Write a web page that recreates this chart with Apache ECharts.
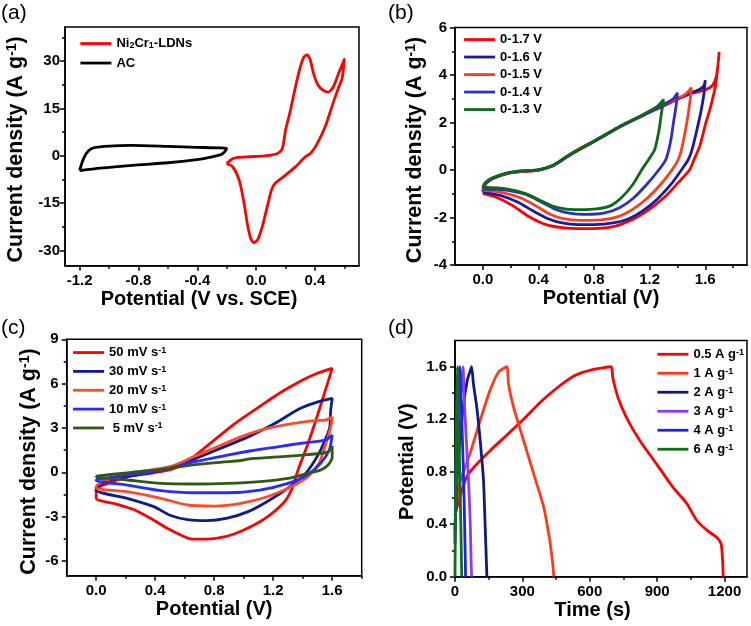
<!DOCTYPE html>
<html><head><meta charset="utf-8">
<script src="https://cdn.jsdelivr.net/npm/echarts@6/dist/echarts.min.js"></script>
<style>html,body{margin:0;padding:0;background:#fff}#c{width:751px;height:626px}</style>
</head><body><div id="c"></div>
<script>
// ---------- Panel (a) ----------
const aNames = ['Ni2Cr1-LDNs', 'AC'];
const aLDNs = [[-0.2,-2.5],[-0.16,-0.9],[-0.12,-0.5],[-0.05,-0.3],[0.06,0],[0.13,0.5],[0.16,1.2],[0.18,2.5],[0.2,8],[0.234,14.5],[0.268,21.9],[0.3,28],[0.325,31.3],[0.347,32],[0.368,30.5],[0.39,26.2],[0.42,22.5],[0.455,20.8],[0.49,20.2],[0.525,21.8],[0.56,26],[0.6,30.5],[0.585,24.5],[0.56,21.5],[0.515,15.5],[0.47,9.2],[0.41,3.4],[0.37,0.8],[0.335,-0.3],[0.27,-3.4],[0.2,-6.1],[0.13,-8.7],[0.105,-10.8],[0.076,-16.1],[0.042,-22.4],[0.01,-26.6],[-0.015,-27.5],[-0.037,-26.1],[-0.06,-21.4],[-0.082,-15],[-0.115,-7.7],[-0.16,-3.4],[-0.2,-2.5]];
const aAC = [[-1.2,-4.7],[-1.19,-3],[-1.17,-0.5],[-1.14,1.6],[-1.1,2.6],[-1.0,3.1],[-0.85,3.3],[-0.6,3.0],[-0.4,2.7],[-0.25,2.5],[-0.2,2.3],[-0.22,1.0],[-0.25,0.2],[-0.32,-0.5],[-0.39,-1.1],[-0.6,-2.2],[-0.84,-3.0],[-1.06,-3.9],[-1.2,-4.7]];
const aXMajor = [-1.2,-0.8,-0.4,0,0.4], aXMinor = [-1.0,-0.6,-0.2,0.2,0.6];
const aYMajor = [-30,-15,0,15,30], aYMinor = [-22.5,-7.5,7.5,22.5,37.5];

// ---------- Panel (b) ----------
const bNames = ['0-1.7 V','0-1.6 V','0-1.5 V','0-1.4 V','0-1.3 V'];
const b17 = [[0,-0.95],[0.02,-0.6],[0.07,-0.37],[0.17,-0.16],[0.29,-0.06],[0.4,-0.01],[0.5,0.16],[0.55,0.33],[0.6,0.53],[0.69,0.84],[0.8,1.2],[0.92,1.6],[1.0,1.86],[1.16,2.32],[1.3,2.7],[1.4,2.98],[1.5,3.22],[1.6,3.38],[1.65,3.55],[1.68,3.95],[1.7,4.97],[1.675,3.6],[1.64,2.7],[1.6,1.9],[1.56,1.0],[1.52,0.45],[1.486,0],[1.41,-0.5],[1.31,-1.13],[1.19,-1.69],[1.07,-2.11],[0.955,-2.36],[0.836,-2.46],[0.69,-2.47],[0.573,-2.43],[0.454,-2.3],[0.334,-1.97],[0.215,-1.5],[0.096,-1.15],[0,-0.99]];
const b16 = [[0,-0.9],[0.02,-0.58],[0.07,-0.36],[0.17,-0.15],[0.29,-0.05],[0.4,0],[0.5,0.17],[0.55,0.34],[0.6,0.54],[0.69,0.85],[0.8,1.2],[0.92,1.6],[1.0,1.86],[1.16,2.32],[1.3,2.72],[1.4,3.0],[1.5,3.25],[1.56,3.4],[1.59,3.55],[1.6,3.78],[1.59,3.2],[1.57,2.5],[1.54,1.7],[1.504,0.84],[1.476,0.42],[1.428,0],[1.36,-0.55],[1.25,-1.25],[1.15,-1.72],[1.05,-2.05],[0.95,-2.22],[0.8,-2.3],[0.68,-2.3],[0.57,-2.23],[0.47,-2.05],[0.36,-1.72],[0.25,-1.35],[0.13,-1.08],[0,-0.93]];
const b15 = [[0,-0.85],[0.02,-0.56],[0.07,-0.35],[0.17,-0.15],[0.29,-0.05],[0.4,0],[0.5,0.18],[0.55,0.35],[0.6,0.55],[0.69,0.85],[0.8,1.2],[0.92,1.6],[1.0,1.86],[1.16,2.33],[1.3,2.74],[1.4,3.02],[1.46,3.2],[1.5,3.47],[1.49,2.9],[1.47,2.1],[1.45,1.45],[1.428,0.84],[1.404,0.42],[1.36,0],[1.28,-0.6],[1.18,-1.2],[1.08,-1.65],[0.98,-1.95],[0.85,-2.1],[0.7,-2.12],[0.58,-2.05],[0.48,-1.85],[0.38,-1.5],[0.27,-1.17],[0.14,-0.95],[0,-0.86]];
const b14 = [[0,-0.8],[0.02,-0.55],[0.07,-0.35],[0.17,-0.14],[0.29,-0.04],[0.4,0],[0.5,0.18],[0.55,0.35],[0.6,0.55],[0.69,0.86],[0.8,1.21],[0.92,1.61],[1.0,1.87],[1.16,2.34],[1.3,2.76],[1.37,3.0],[1.4,3.25],[1.39,2.7],[1.37,1.95],[1.355,1.35],[1.337,0.84],[1.314,0.42],[1.265,0],[1.18,-0.6],[1.08,-1.2],[0.98,-1.6],[0.87,-1.82],[0.75,-1.87],[0.62,-1.82],[0.52,-1.65],[0.42,-1.35],[0.32,-1.05],[0.2,-0.88],[0.1,-0.82],[0,-0.8]];
const b13 = [[0,-0.72],[0.02,-0.52],[0.07,-0.33],[0.17,-0.13],[0.29,-0.03],[0.4,0.01],[0.5,0.19],[0.55,0.36],[0.6,0.56],[0.69,0.87],[0.8,1.22],[0.92,1.62],[1.0,1.88],[1.16,2.36],[1.26,2.7],[1.3,2.97],[1.285,2.4],[1.265,1.6],[1.235,0.84],[1.19,0.42],[1.142,0],[1.08,-0.6],[1.0,-1.15],[0.92,-1.5],[0.82,-1.64],[0.7,-1.67],[0.6,-1.65],[0.5,-1.52],[0.41,-1.27],[0.31,-0.99],[0.17,-0.79],[0,-0.72]];
const bXMajor = [0,0.4,0.8,1.2,1.6], bXMinor = [0.2,0.6,1.0,1.4,1.8];
const bYMajor = [-4,-2,0,2,4,6], bYMinor = [-3,-1,1,3,5];

// ---------- Panel (c) ----------
const cNames = ['50 mV s-1','30 mV s-1','20 mV s-1','10 mV s-1','5 mV s-1'];
const c50 = [[0,-1.1],[0.05,-0.85],[0.21,-0.3],[0.39,-0.03],[0.53,0.26],[0.66,1.05],[0.8,2.18],[0.94,3.3],[1.1,4.4],[1.25,5.4],[1.4,6.25],[1.5,6.7],[1.6,7.03],[1.561,5.78],[1.504,3.98],[1.436,1.95],[1.368,0.15],[1.323,-1.2],[1.277,-1.99],[1.163,-3.0],[1.05,-3.67],[0.936,-4.17],[0.822,-4.45],[0.708,-4.52],[0.64,-4.5],[0.595,-4.34],[0.481,-3.78],[0.368,-3.11],[0.25,-2.5],[0.136,-2.15],[0,-1.75],[0,-1.1]];
const c30 = [[0,-1.0],[0.1,-0.5],[0.32,-0.1],[0.5,0.26],[0.66,0.87],[0.84,1.61],[1.03,2.4],[1.21,3.3],[1.378,4.3],[1.514,4.8],[1.6,5.0],[1.59,4.2],[1.584,3.08],[1.57,2.63],[1.51,1.28],[1.42,-0.07],[1.3,-1.07],[1.16,-1.97],[1.03,-2.66],[0.89,-3.1],[0.75,-3.27],[0.62,-3.2],[0.5,-2.9],[0.39,-2.32],[0.21,-1.76],[0,-1.22],[0,-1.0]];
const c20 = [[0,-0.9],[0.05,-0.6],[0.21,-0.1],[0.5,0.38],[0.66,1.05],[0.82,1.73],[0.98,2.4],[1.16,2.97],[1.34,3.31],[1.48,3.5],[1.56,3.55],[1.6,3.76],[1.59,3.08],[1.55,1.73],[1.51,0.6],[1.42,-0.41],[1.3,-1.08],[1.16,-1.65],[0.98,-2.1],[0.8,-2.28],[0.62,-2.21],[0.44,-1.76],[0.21,-1.31],[0,-1.08],[0,-0.9]];
const c10 = [[0,-0.47],[0.21,-0.2],[0.44,0.14],[0.66,0.7],[0.89,1.17],[1.05,1.46],[1.23,1.73],[1.41,2.0],[1.55,2.18],[1.6,2.52],[1.58,1.51],[1.52,0.6],[1.43,-0.18],[1.3,-0.75],[1.11,-1.2],[0.89,-1.38],[0.66,-1.38],[0.44,-1.24],[0.21,-0.86],[0,-0.55],[0,-0.47]];
const c5 = [[0,-0.25],[0.21,-0.03],[0.44,0.2],[0.66,0.5],[0.89,0.72],[0.98,0.8],[1.03,0.9],[1.23,1.04],[1.43,1.2],[1.57,1.37],[1.6,1.78],[1.6,1.06],[1.57,0.48],[1.52,0.15],[1.43,-0.07],[1.3,-0.41],[1.11,-0.63],[0.89,-0.75],[0.66,-0.79],[0.44,-0.75],[0.21,-0.52],[0,-0.3],[0,-0.25]];
const cXMajor = [0,0.4,0.8,1.2,1.6], cXMinor = [0.2,0.6,1.0,1.4,1.8];
const cYMajor = [-6,-3,0,3,6,9], cYMinor = [-4.5,-1.5,1.5,4.5,7.5];

// ---------- Panel (d) ----------
const dNames = ['0.5 A g-1','1 A g-1','2 A g-1','3 A g-1','4 A g-1','6 A g-1'];
const d05 = [[0,0.47],[22,0.61],[52,0.76],[82,0.83],[156,0.96],[231,1.08],[305,1.2],[380,1.33],[455,1.44],[529,1.53],[604,1.575],[695,1.6],[702,1.52],[725,1.37],[763,1.215],[822,1.04],[897,0.86],[971,0.68],[1031,0.56],[1076,0.43],[1121,0.355],[1165,0.3],[1185,0.25],[1192,0.1],[1194,0]];
const d1 = [[0,0.5],[22,0.72],[67,0.94],[112,1.19],[156,1.42],[194,1.56],[231,1.6],[238,1.47],[261,1.29],[305,1.04],[350,0.785],[395,0.53],[420,0.3],[428,0.2],[435,0.1],[440,0]];
const d2 = [[0,0.35],[8,0.7],[20,1.0],[37,1.3],[55,1.5],[68,1.57],[74,1.6],[82,1.47],[97,1.29],[112,1.04],[127,0.73],[134,0.4],[140,0.1],[142,0]];
const d3 = [[0,0.3],[6,0.75],[16,1.15],[27,1.42],[36,1.6],[40,1.4],[50,1.05],[60,0.75],[68,0.4],[72,0.1],[74,0]];
const d4 = [[0,0.25],[4,0.75],[11,1.15],[17,1.42],[22,1.6],[26,1.4],[34,1.0],[41,0.55],[45,0.2],[47,0]];
const d6 = [[0,0],[2,0.5],[5,1.0],[8,1.35],[11,1.6],[15,1.3],[21,0.8],[26,0.4],[29,0.1],[30,0]];
const dXMajor = [0,300,600,900,1200], dXMinor = [150,450,750,1050];
const dYMajor = [0,0.4,0.8,1.2,1.6], dYMinor = [0.2,0.6,1.0,1.4];

// ---------- styling ----------
const FF = '"Liberation Sans", Arial, sans-serif';
const LW = 2.8;
const grids = [
  {left:65, top:27, width:294, height:238.7},
  {left:455, top:27.5, width:292, height:237.5},
  {left:66.7, top:339.3, width:295, height:236.5},
  {left:455, top:340.5, width:292, height:236.2}
].map(g => Object.assign(g, {show:true, borderColor:'#000', borderWidth:1.5, backgroundColor:'transparent', containLabel:false}));

const f1 = v => v.toFixed(1), f0 = v => String(Math.round(v));
const nameStyle = {fontSize:20, fontWeight:'bold', fontFamily:FF, color:'#000'};
const richName = {
  t:{fontSize:21.5, fontWeight:'bold', fontFamily:FF, color:'#000'},
  s:{fontSize:14, fontWeight:'bold', fontFamily:FF, color:'#000', verticalAlign:'top'}
};
const yTitle = '{t|Current density (A g}{s|-1}{t|)}';

function axisPair(dim, gi, min, max, major, minor, fmt, name, gap, labelMargin, namePad) {
  const pos = dim === 'x' ? 'bottom' : 'left';
  const main = {
    type:'value', gridIndex:gi, min, max, position:pos,
    axisLine:{show:true, onZero:false, lineStyle:{color:'#000', width:1.5}}, splitLine:{show:false},
    axisTick:{show:true, inside:false, length:5, lineStyle:{color:'#000', width:1.5}, customValues:major},
    axisLabel:{show:true, customValues:major, formatter:fmt, margin:labelMargin, color:'#000', fontSize:15, fontWeight:'bold', fontFamily:FF},
    name, nameLocation:'middle', nameGap:gap,
    nameTextStyle: Object.assign({}, nameStyle, {rich:richName, padding:namePad || 0})
  };
  if (dim === 'y') main.nameRotate = 90;
  const mnr = {
    type:'value', gridIndex:gi, min, max, position:pos,
    axisLine:{show:false, onZero:false}, splitLine:{show:false},
    axisTick:{show:true, inside:false, length:3, lineStyle:{color:'#000', width:1.5}, customValues:minor},
    axisLabel:{show:false}
  };
  return [main, mnr];
}

const xAxis = [].concat(
  axisPair('x',0,-1.3,0.7,aXMajor,aXMinor,f1,'Potential (V vs. SCE)',18,8,[0,26,0,0]),
  axisPair('x',1,-0.2,1.9,bXMajor,bXMinor,f1,'Potential (V)',23,7),
  axisPair('x',2,-0.2,1.8,cXMajor,cXMinor,f1,'Potential (V)',22,8),
  axisPair('x',3,0,1300,dXMajor,dXMinor,f0,'Time (s)',24,8,[0,17,0,0])
);
const yAxis = [].concat(
  axisPair('y',0,-34.8,40.8,aYMajor,aYMinor,f0,yTitle,37.5,5,[0,6,0,0]),
  axisPair('y',1,-4,6,bYMajor,bYMinor,f0,yTitle,28.5,8,[0,7.5,0,0]),
  axisPair('y',2,-7,9,cYMajor,cYMinor,f0,yTitle,27,8,[0,8,0,0]),
  axisPair('y',3,0,1.8,dYMajor,dYMinor,f1,'Potential (V)',38,8,[0,6,0,0])
);

function line(gi, name, data, color, smooth) {
  return {type:'line', name, data, xAxisIndex:gi*2, yAxisIndex:gi*2, symbol:'none', showSymbol:false,
    smooth: smooth === undefined ? 0.25 : smooth, lineStyle:{width:LW, color}, itemStyle:{color}, color, animation:false, clip:true};
}

const series = [
  line(0, aNames[0], aLDNs, '#FF0000'),
  line(0, aNames[1], aAC, '#000000'),
  line(1, bNames[0], b17, '#FF0000'),
  line(1, bNames[1], b16, '#1A1AA0'),
  line(1, bNames[2], b15, '#FF3C1C'),
  line(1, bNames[3], b14, '#2E2EC4'),
  line(1, bNames[4], b13, '#0B6B14'),
  line(2, cNames[0], c50, '#FF0000'),
  line(2, cNames[1], c30, '#0C1C8C'),
  line(2, cNames[2], c20, '#FF4A2A'),
  line(2, cNames[3], c10, '#2A2AFF'),
  line(2, cNames[4], c5, '#2F5A14'),
  line(3, dNames[0], d05, '#FF0000', 0.2),
  line(3, dNames[1], d1, '#FF3A18', 0.2),
  line(3, dNames[2], d2, '#0D1A80', 0.2),
  line(3, dNames[3], d3, '#8C3CF0', 0.2),
  line(3, dNames[4], d4, '#1E1EFF', 0.2),
  line(3, dNames[5], d6, '#0F6E1E', 0.2)
];

const legRich = {
  t:{fontSize:13, fontWeight:'bold', fontFamily:FF, color:'#000'},
  sup:{fontSize:9, fontWeight:'bold', fontFamily:FF, color:'#000', verticalAlign:'top'},
  sub:{fontSize:9, fontWeight:'bold', fontFamily:FF, color:'#000', verticalAlign:'bottom'}
};
function legFmt(name) {
  if (name === 'Ni2Cr1-LDNs') return '{t|Ni}{sub|2}{t|Cr}{sub|1}{t|-LDNs}';
  if (name.endsWith('-1')) {
    const base = name.slice(0, -2);
    const pre = name.startsWith('5 ') ? ' ' : '';
    return '{t|' + pre + base + '}{sup|-1}';
  }
  return '{t|' + name + '}';
}
// each legend row box is ~12.5 px tall (text height); pitch = 12.5 + itemGap
const ROW = 12.5;
function leg(data, left, firstCentre, pitch) {
  return {data, left, top:firstCentre - ROW / 2, orient:'vertical', itemWidth:31, itemHeight:12, itemGap:pitch - ROW, padding:0,
    itemStyle:{opacity:0}, lineStyle:{width:LW},
    formatter:legFmt, textStyle:{fontSize:13, fontWeight:'bold', fontFamily:FF, color:'#000', rich:legRich}};
}
const legend = [
  leg(aNames, 79, 43.3, 19),
  leg(bNames, 462.7, 39.3, 17),
  leg(cNames, 71.7, 352.3, 18.35),
  leg(dNames, 656, 354, 18.5)
];

const tStyle = {fontSize:21, fontWeight:'normal', fontFamily:FF, color:'#000'};
const title = [
  {text:'(a)', left:1, top:3, padding:0, textStyle:tStyle},
  {text:'(b)', left:388, top:3, padding:0, textStyle:tStyle},
  {text:'(c)', left:1, top:318, padding:0, textStyle:tStyle},
  {text:'(d)', left:388, top:318, padding:0, textStyle:tStyle}
];

const chart = echarts.init(document.getElementById('c'), null, {renderer:'canvas'});
chart.setOption({animation:false, backgroundColor:'#fff', title, legend, grid:grids, xAxis, yAxis, series});
</script></body></html>
